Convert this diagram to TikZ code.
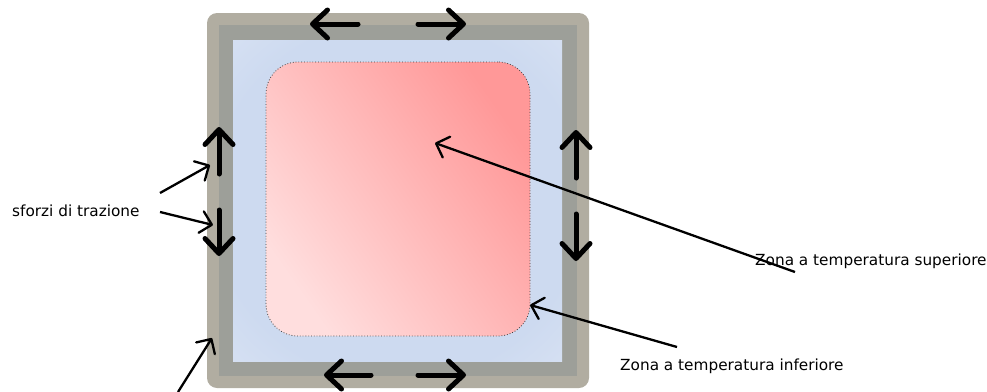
\documentclass[tikz,border=0pt]{standalone}
\usepackage{fontspec}
\setmainfont{DejaVu Sans}
\usetikzlibrary{arrows.meta}
\definecolor{framec}{RGB}{177,173,161}
\definecolor{bandc}{RGB}{157,159,153}
\definecolor{bluein}{RGB}{205,218,240}
\definecolor{blueout}{RGB}{230,236,247}
\definecolor{pinkdark}{RGB}{255,152,152}
\definecolor{pinklight}{RGB}{255,222,222}
\pgfdeclareradialshading{coldshade}{\pgfpoint{0bp}{0bp}}{%
  color(0bp)=(bluein); color(28bp)=(bluein); color(52bp)=(blueout); color(70bp)=(blueout)}
\tikzset{
  lbl/.style={font=\fontsize{15.3}{18}\selectfont, anchor=base west, inner sep=0pt},
  stress/.style={line width=5pt, line cap=round, -{Straight Barb[length=15pt,width=28pt,round]}},
  pointer/.style={line width=2.3pt, -{Straight Barb[length=11pt,width=22pt,round]}}
}
\begin{document}
\begin{tikzpicture}[x=1pt,y=-1pt]
\useasboundingbox (0,0) rectangle (987,391);
\node[fill=framec, rounded corners=10pt, minimum width=382pt, minimum height=375pt, inner sep=0pt] (frame) at (398,200.5) {};
\node[fill=bandc, minimum width=358pt, minimum height=351pt, inner sep=0pt] (band) at (398,200.5) {};
\node[shading=coldshade, minimum width=329pt, minimum height=321pt, inner sep=0pt] (cold) at (397.5,200.5) {};
\node[draw=black!75, dotted, line width=0.8pt, rounded corners=32pt, shading=axis, top color=pinkdark, bottom color=pinklight, shading angle=-55, minimum width=264pt, minimum height=274pt, inner sep=0pt] (hot) at (398,199) {};

% stress arrows
\coordinate (t1s) at (358,24); \coordinate (t1e) at (310,24);
\coordinate (t2s) at (418,24); \coordinate (t2e) at (466,24);
\coordinate (b1s) at (371,375); \coordinate (b1e) at (324,375);
\coordinate (b2s) at (418,375); \coordinate (b2e) at (466,375);
\coordinate (l1s) at (219,174); \coordinate (l1e) at (219,127);
\coordinate (l2s) at (219,210); \coordinate (l2e) at (219,256);
\coordinate (r1s) at (576,178); \coordinate (r1e) at (576,130);
\coordinate (r2s) at (576,214); \coordinate (r2e) at (576,261);
\draw[stress] (t1s) -- (t1e);
\draw[stress] (t2s) -- (t2e);
\draw[stress] (b1s) -- (b1e);
\draw[stress] (b2s) -- (b2e);
\draw[stress] (l1s) -- (l1e);
\draw[stress] (l2s) -- (l2e);
\draw[stress] (r1s) -- (r1e);
\draw[stress] (r2s) -- (r2e);

% labels
\node[lbl] (sforzi) at (12,216) {sforzi di trazione};
\node[lbl] (sup) at (755,265) {Zona a temperatura superiore};
\node[lbl] (inf) at (620,370) {Zona a temperatura inferiore};

\coordinate (supS) at (795,272); \coordinate (supE) at (435,143);
\coordinate (infS) at (677,347); \coordinate (infE) at (530,305);
\coordinate (sfS1) at (160,193); \coordinate (sfE1) at (210,165);
\coordinate (sfS2) at (160,212); \coordinate (sfE2) at (213,225);
\coordinate (blS) at (178,392); \coordinate (blE) at (212,338);
\draw[pointer] (supS) -- (supE);
\draw[pointer] (infS) -- (infE);
\draw[pointer] (sfS1) -- (sfE1);
\draw[pointer] (sfS2) -- (sfE2);
\draw[pointer] (blS) -- (blE);
\end{tikzpicture}
\end{document}
